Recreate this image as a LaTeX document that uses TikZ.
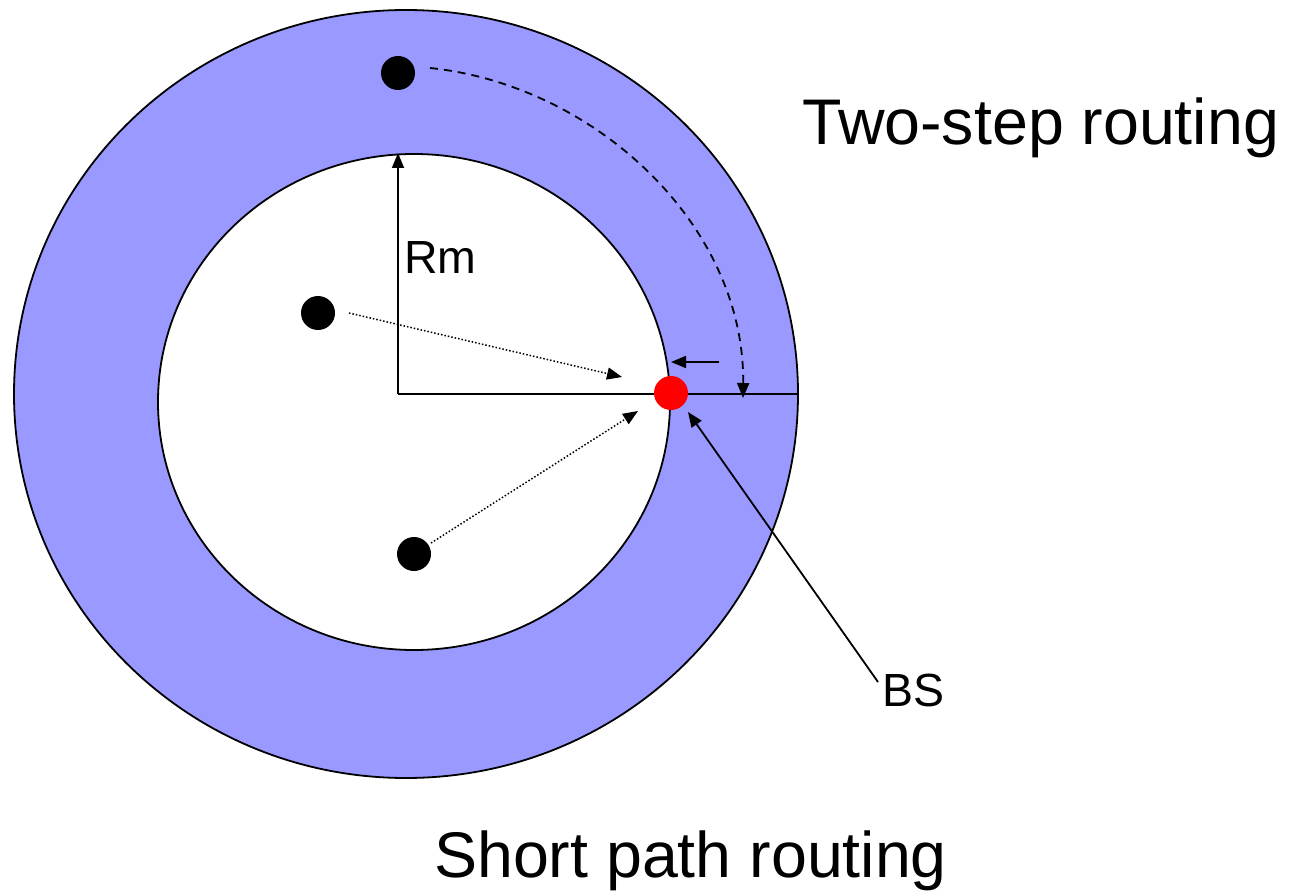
\documentclass[tikz,border=0pt]{standalone}
\usepackage{fontspec}
\setmainfont{Liberation Sans}
\usetikzlibrary{arrows.meta}
\definecolor{ring}{HTML}{9999FF}
\tikzset{
  dot/.style={circle,fill=black,inner sep=0pt,minimum size=34pt},
  reddot/.style={circle,fill=red,inner sep=0pt,minimum size=34pt},
  tip/.style={-{Triangle[length=15pt,width=12pt]}},
  thinline/.style={line width=1.8pt},
  bigtext/.style={font=\fontsize{64.5}{70}\selectfont,inner sep=0pt},
  midtext/.style={font=\fontsize{46.5}{52}\selectfont,inner sep=0pt}
}
\begin{document}
\begin{tikzpicture}[x=1pt,y=-1pt]
\useasboundingbox (0,0) rectangle (1298,893);
% rings
\draw[thinline,fill=ring] (406,394) ellipse [x radius=392,y radius=384];
\draw[thinline,fill=white] (414,402) ellipse [x radius=256,y radius=248];
% axes
\coordinate (o) at (398,394);
\coordinate (rtop) at (398,153);
\coordinate (rend) at (798,394);
\draw[thinline] (o) -- (rend);
\draw[thinline,tip] (o) -- (rtop);
% nodes
\node[dot] (d1) at (398,73) {};
\node[dot] (d2) at (318,313) {};
\node[dot] (d3) at (414,554) {};
\node[reddot] (bs) at (671,393) {};
% texts
\node[midtext,anchor=base west] (rm) at (404,273) {Rm};
\node[midtext,anchor=base west] (bsl) at (882,706) {BS};
\node[bigtext,anchor=base west] (two) at (802,145) {Two-step routing};
\node[bigtext,anchor=base west] (short) at (434,877) {Short path routing};
% connectors
\coordinate (a2s) at (349,313);
\coordinate (a2e) at (622,377);
\coordinate (a3s) at (431,543);
\coordinate (a3e) at (638,411);
\draw[line width=1.5pt,dotted,tip] (a2s) -- (a2e);
\draw[line width=1.5pt,dotted,tip] (a3s) -- (a3e);
\coordinate (a1s) at (430,68);
\coordinate (a1e) at (743,398);
\draw[line width=1.8pt,dash pattern=on 8pt off 6pt,tip] (a1s) .. controls (595,85) and (745,225) .. (a1e);
\coordinate (hs) at (719,362);
\coordinate (he) at (671,362);
\draw[thinline,tip] (hs) -- (he);
\coordinate (bss) at (878,682);
\coordinate (bse) at (688,412);
\draw[thinline,tip] (bss) -- (bse);
\end{tikzpicture}
\end{document}
